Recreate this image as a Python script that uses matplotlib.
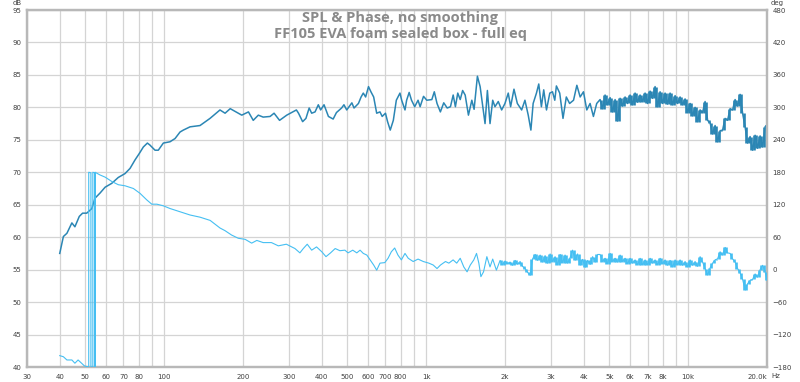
import numpy as np
import matplotlib.pyplot as plt
from matplotlib.ticker import NullLocator

# SPL trace, 40 Hz .. 4.5 kHz
spl_freq = [40, 41.3, 42.6, 44.5, 45.7, 47.5, 48.9, 50.7, 53.0, 54.5, 57.0, 59.6,
            63.2, 66.9, 71.0, 74.2, 77.5, 80.5, 83.4, 86.4, 88.3, 92.4, 95.1, 99.4,
            105.4, 110.2, 115.1, 118.5, 125.7, 137.2, 149.8, 163.5, 171, 178.9, 198,
            210, 219, 229, 239, 254, 263, 276, 294, 320, 326, 338, 348, 358, 366,
            377, 388, 396, 408, 424, 442, 455, 476, 486, 498, 521, 531, 552, 565,
            576, 588, 603, 616, 631, 648, 667, 680, 700, 713, 730, 750, 770, 795,
            807, 831, 843, 862, 880, 905, 932, 949, 978, 1006, 1052, 1075, 1101,
            1134, 1168, 1204, 1239, 1269, 1294, 1321, 1350, 1379, 1410, 1451, 1495,
            1525, 1570, 1608, 1646, 1679, 1714, 1754, 1796, 1832, 1886, 1943, 2000,
            2059, 2102, 2165, 2230, 2316, 2384, 2454, 2512, 2562, 2638, 2692, 2755,
            2812, 2881, 2966, 3037, 3099, 3143, 3236, 3331, 3429, 3530, 3654, 3762,
            3873, 3987, 4105, 4226, 4351, 4479]
spl_db = [57.5, 60.1, 60.6, 62.2, 61.6, 63.2, 63.7, 63.7, 64.4, 66.0, 66.8, 67.7,
          68.3, 69.2, 69.8, 70.6, 71.9, 72.9, 73.9, 74.5, 74.2, 73.4, 73.4, 74.5,
          74.7, 75.2, 76.2, 76.5, 77.0, 77.2, 78.3, 79.6, 79.1, 79.8, 78.8,
          79.3, 78.0, 78.8, 78.5, 78.6, 79.1, 78.0, 78.8, 79.6, 79.1, 77.8, 78.3, 79.9, 79.1,
          79.3, 80.4, 79.6, 80.4, 78.6, 78.2, 79.2, 79.9, 80.4, 79.6, 80.7, 79.9, 80.6, 81.6,
          82.2, 81.6, 83.2, 82.4, 81.6, 79.1, 79.3, 78.6, 79.1, 77.8, 76.5, 78.0, 81.1, 82.2,
          81.1, 79.6, 81.1, 82.3, 81.1, 80.1, 81.1, 80.1, 81.7, 81.1, 81.2, 82.4, 80.6,
          79.3, 80.7, 79.9, 80.1, 81.9, 80.1, 82.2, 81.2, 82.6, 81.9, 78.8, 81.1,
          79.7, 84.8, 83.2, 80.1, 77.5, 82.6, 77.5, 81.1, 80.1, 80.9, 79.6, 80.6,
          82.2, 80.1, 82.8, 80.6, 79.6, 81.1, 78.8, 76.5, 80.6, 82.2, 83.6, 80.1,
          82.7, 79.6, 82.2, 82.4, 81.1, 83.3, 82.2, 78.3, 81.6, 80.6, 81.1, 83.4,
          81.6, 82.4, 79.6, 80.6, 78.6, 80.6]

# measurement points in the dense, noisy upper band
freq_a = [1916, 1959, 2002, 2047, 2092, 2139, 2186, 2235, 2285, 2335, 2387, 2440,
          2494, 2550, 2607, 2665, 2724, 2784, 2846, 2909, 2974, 3040, 3107, 3176,
          3247, 3319, 3392, 3468, 3545, 3623, 3704, 3786, 3870, 3956, 4044, 4134,
          4226, 4320, 4416, 4514]
freq_b = [4614, 4716, 4821, 4928, 5038, 5150, 5264, 5381, 5500, 5622, 5747, 5875,
          6005, 6139, 6275, 6415, 6557, 6703, 6852, 7004, 7160, 7319, 7481, 7648,
          7817, 7991, 8168, 8350, 8535, 8725, 8919, 9117, 9319, 9527, 9738, 9954,
          10175, 10401, 10632, 10868, 11110, 11357, 11609, 11867, 12130, 12400,
          12675, 12957, 13245, 13539, 13840, 14147, 14461, 14782, 15111, 15446,
          15789, 16140, 16499, 16865, 17240, 17623, 18014, 18414, 18823, 19241,
          19669, 20000]
spl_db_b = [81.2, 79.8, 81.9, 80.4, 81.5, 79.3, 81.2, 77.9, 81.4, 80.2, 81.6, 80.6,
            81.9, 80.4, 82.2, 80.8, 81.9, 80.9, 82.2, 80.6, 82.5, 81.4, 83.2, 80.1,
            82.4, 80.6, 82.2, 80.5, 82.2, 80.4, 81.8, 80.6, 81.6, 80.4, 81.3, 79.2,
            80.6, 78.7, 80.0, 77.8, 79.6, 79.2, 80.9, 78.0, 77.6, 75.9, 77.2, 74.7,
            76.4, 76.5, 78.3, 78.0, 79.8, 79.6, 81.2, 80.2, 82.0, 79.1, 77.0, 74.5,
            75.5, 73.4, 75.7, 73.7, 75.6, 73.9, 77.0, 77.3]

# phase trace (deg), with the wraps near 52 Hz
phase_freq = [40, 41.3, 42.6, 44.5, 45.7, 47.0, 48.2, 49.7, 50.7, 51.6, 51.6, 52.6,
              52.6, 53.5, 53.5, 54.4, 54.4, 54.6, 54.6, 57.0, 59.6, 63.2, 66.9, 71.0,
              76.4, 81.0, 85.9, 89.8, 93.9, 99.4, 105.4, 115, 125.7, 137.2, 150,
              163.5, 171, 181, 192, 204, 216, 226, 239, 257, 273, 293, 316, 330, 340,
              352, 366, 382, 400, 415, 432, 450, 469, 490, 504, 525, 544, 560, 576,
              594, 612, 631, 648, 667, 696, 716, 737, 759, 781, 805, 831, 855, 893,
              932, 976, 1025, 1065, 1101, 1135, 1186, 1222, 1268, 1309, 1350, 1393,
              1434, 1475, 1521, 1558, 1590, 1619, 1657, 1706, 1754, 1796, 1855]
phase_deg = [-159, -161, -167, -167, -173, -167, -172, -178, -179, -180, 180, 179,
             -180, -180, 180, 179, -180, -180, 180, 175, 171, 163, 157, 155,
             150, 141, 129, 121, 121, 118, 113, 107, 101, 97, 91,
             77, 72, 64, 58, 56, 49, 54, 50, 50, 44, 47, 39, 31, 39,
             47, 36, 42, 33, 24, 31, 39, 35, 36, 31, 36, 31, 36, 30,
             27, 18, 8.5, -1, 12, 13, 21, 33, 40, 27, 18, 30, 21, 15,
             19.5, 15, 12, 8.5, 2, 8.5, 15, 12, 18, 12, 21, 5,
             -4, 8.5, 18, 30, 12, -13, -4, 24, 5, 19.5, -1]
phase_deg_a = [17, 9, 16, 11, 14, 8, 17, 10, 15, 6, 2, -5, -10, 20, 28, 17, 27, 14,
               26, 12, 29, 15, 24, 9, 28, 13, 27, 12, 22, 36, 18, 29, 9, 19, 5, 17,
               10, 24, 15, 28]
phase_deg_b = [28, 15, 21, 11, 30, 15, 21, 14, 27, 15, 21, 11, 21, 12, 18, 9, 21, 9,
               18, 9, 21, 12, 18, 9, 21, 11, 18, 8, 17, 5, 18, 9, 18, 8, 15, 5, 18, 8,
               15, 6, 24, 14, 2, -10, 3, 12, 18, 20, 33, 27, 41, 31, 30, 20, 14, 2,
               -6, -18, -37, -26, -20, -18, -8, -14, 0, 8, -4, -19]

grid_freqs = [30, 40, 50, 60, 70, 80, 90, 100, 200, 300, 400, 500, 600, 700, 800,
              900, 1000, 2000, 3000, 4000, 5000, 6000, 7000, 8000, 9000, 10000, 20000]
grid_labels = ["30", "40", "50", "60", "70", "80", "", "100", "200", "300", "400",
               "500", "600", "700", "800", "", "1k", "2k", "3k", "4k", "5k", "6k",
               "7k", "8k", "", "10k", "20.0k"]


def noise_columns(ax, f, v, color, lw):
    # a dense noisy trace shows as one filled column per step between points
    f = np.asarray(f, dtype=float)
    v = np.asarray(v, dtype=float)
    mid = np.sqrt(f[:-1] * f[1:])
    ax.vlines(mid, np.minimum(v[:-1], v[1:]), np.maximum(v[:-1], v[1:]),
              color=color, lw=lw, zorder=3)


spl_f = np.concatenate([spl_freq, freq_b])
spl_v = np.concatenate([spl_db, spl_db_b])
ph_f = np.concatenate([phase_freq, freq_a, freq_b])
ph_v = np.concatenate([phase_deg, phase_deg_a, phase_deg_b])

spl_color = "#2b86b4"
phase_color = "#45bff2"
frame = "#b8b8b8"
label_color = "#404040"
fs = 5

fig = plt.figure(figsize=(8, 3.82), dpi=100)
ax = fig.add_axes([27 / 800, 15 / 382, 740 / 800, 357 / 382])
ax.set_xscale("log")
ax.set_xlim(30, 20000)
ax.set_ylim(40, 95)
ax.set_yticks(range(40, 96, 5))
ax.set_xticks(grid_freqs)
ax.set_xticklabels(grid_labels)
ax.xaxis.set_minor_locator(NullLocator())
ax.grid(True, color="#d4d4d4", lw=0.9)
ax.set_axisbelow(True)
ax.tick_params(which="both", length=0, labelsize=fs, colors=label_color)
ax.tick_params(axis="y", pad=4)
ax.tick_params(axis="x", pad=5)
ax.get_xticklabels()[-1].set_ha("right")

ax.plot(spl_f, spl_v, color=spl_color, lw=1.1, zorder=3)
noise_columns(ax, freq_b, spl_db_b, spl_color, 1.9)

ax2 = ax.twinx()
ax2.set_ylim(-180, 480)
ax2.set_yticks(range(-180, 481, 60))
ax2.tick_params(length=0, labelsize=fs, colors=label_color, pad=4)
ax2.plot(ph_f, ph_v, color=phase_color, lw=0.8, zorder=3)
noise_columns(ax2, np.concatenate([freq_a, freq_b]),
              np.concatenate([phase_deg_a, phase_deg_b]), phase_color, 1.9)

for a in (ax, ax2):
    for s in a.spines.values():
        s.set_color(frame)
        s.set_linewidth(1.6)

fig.text(17 / 800, 1, "dB", fontsize=fs, color=label_color,
         ha="center", va="top")
fig.text(777 / 800, 1, "deg", fontsize=fs, color=label_color,
         ha="center", va="top")
fig.text(771 / 800, 1 - 376 / 382, "Hz", fontsize=fs, color=label_color,
         ha="left", va="center")

fig.text(0.5, 1 - 18 / 382, "SPL & Phase, no smoothing", fontsize=10.5,
         fontweight="bold", color="#8a8a8a", ha="center", va="center",
         family="Open Sans")
fig.text(0.5, 1 - 34 / 382, "FF105 EVA foam sealed box - full eq", fontsize=10.5,
         fontweight="bold", color="#8a8a8a", ha="center", va="center",
         family="Open Sans")

fig.savefig("out.png", dpi=100, facecolor="white")
